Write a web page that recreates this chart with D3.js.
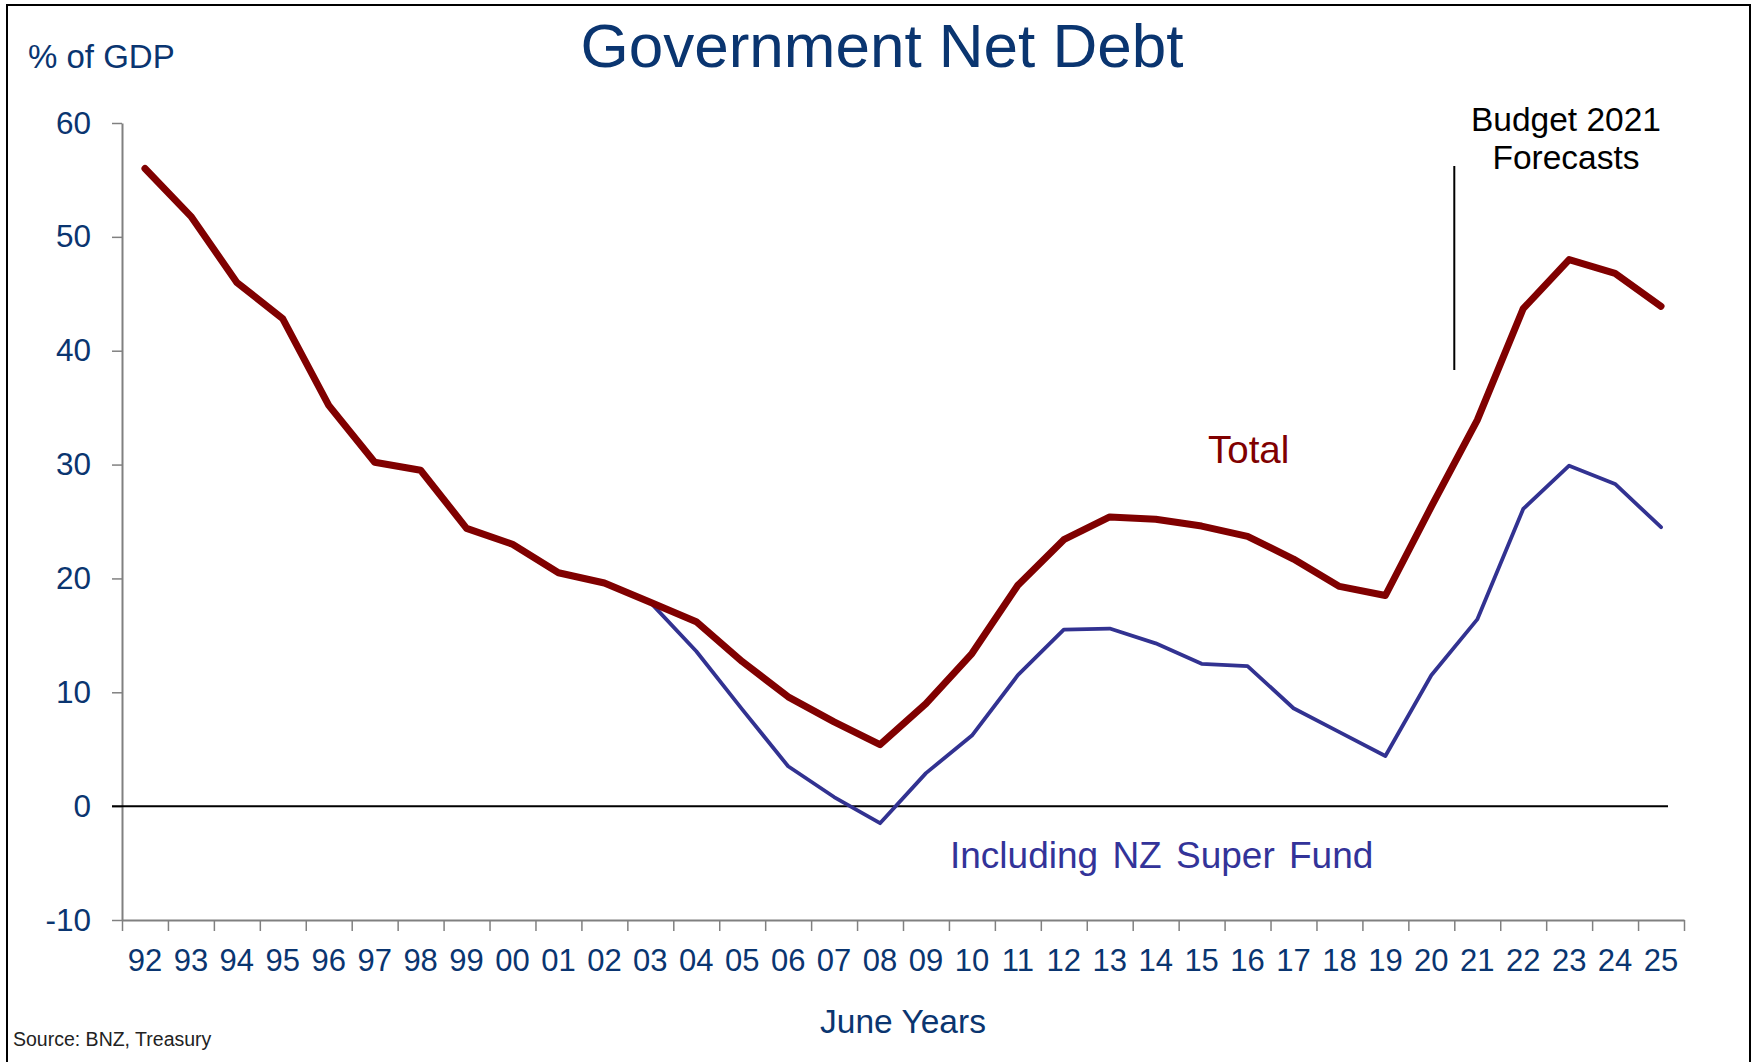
<!DOCTYPE html>
<html>
<head>
<meta charset="utf-8">
<script src="https://cdn.jsdelivr.net/npm/d3@7"></script>
<style>
  html, body { margin: 0; padding: 0; background: #fff; }
  svg { display: block; }
  text { font-family: "Liberation Sans", Arial, sans-serif; }
</style>
</head>
<body>
<svg id="chart" width="1757" height="1062"></svg>
<script>
// ---- data ----
const years = ["92","93","94","95","96","97","98","99","00","01","02","03","04","05","06","07","08",
               "09","10","11","12","13","14","15","16","17","18","19","20","21","22","23","24","25"];
const totalDebt = [56.0, 51.8, 46.0, 42.8, 35.2, 30.2, 29.5, 24.4, 23.0, 20.5, 19.6, 17.9,
                   16.2, 12.7, 9.6, 7.4, 5.4, 9.0, 13.4, 19.4, 23.4, 25.4, 25.2, 24.6,
                   23.7, 21.7, 19.3, 18.5, 26.3, 33.9, 43.7, 48.0, 46.8, 43.9];
const inclNZSF = [56.0, 51.8, 46.0, 42.8, 35.2, 30.2, 29.5, 24.4, 23.0, 20.5, 19.6, 17.9,
                  13.6, 8.5, 3.5, 0.8, -1.5, 2.9, 6.2, 11.5, 15.5, 15.6, 14.3, 12.5,
                  12.3, 8.6, 6.5, 4.4, 11.5, 16.4, 26.1, 29.9, 28.3, 24.5];
const yTicks = [-10, 0, 10, 20, 30, 40, 50, 60];
const forecastBoundary = "21"; // forecasts start from this year

(function () {
// ---- layout ----
const blue = "#0a3570";
const svg = d3.select("#chart");
const mLeft = 122, mRight = 1684, mTop = 123, mBottom = 920;

const x = d3.scaleBand().domain(years).range([mLeft, mRight]).padding(0);
const xEdge = d3.scaleLinear().domain([0, years.length]).range([mLeft, mRight]);
const y = d3.scaleLinear().domain([-10, 60]).range([mBottom, mTop]);
const cx = d => x(d) + x.bandwidth() / 2;

// frame
svg.append("rect").attr("x", 7).attr("y", 5).attr("width", 1743).attr("height", 1070)
  .attr("fill", "none").attr("stroke", "#000").attr("stroke-width", 2);

// title
svg.append("text").attr("x", 882).attr("y", 67).attr("text-anchor", "middle")
  .attr("font-size", 62).attr("fill", blue).text("Government Net Debt");
svg.append("text").attr("x", 28).attr("y", 68)
  .attr("font-size", 33).attr("fill", blue).text("% of GDP");

// y axis
const yAxis = svg.append("g").attr("transform", `translate(${mLeft},0)`)
  .call(d3.axisLeft(y).tickValues(yTicks).tickSize(10).tickPadding(21).tickSizeOuter(0)
        .tickFormat(d => String(d)));
yAxis.select(".domain").attr("stroke", "#808080").attr("stroke-width", 2);
yAxis.selectAll(".tick line").attr("stroke", "#808080").attr("stroke-width", 1.5);
yAxis.selectAll(".tick text").attr("font-size", 31.5).attr("fill", blue)
  .attr("font-family", "Liberation Sans, Arial, sans-serif");

// x axis (ticks at category boundaries)
const xAxisTicks = svg.append("g").attr("transform", `translate(0,${mBottom})`)
  .call(d3.axisBottom(xEdge).tickValues(d3.range(years.length + 1)).tickSize(11).tickSizeOuter(0).tickFormat(""));
xAxisTicks.select(".domain").attr("stroke", "#808080").attr("stroke-width", 2);
xAxisTicks.selectAll(".tick line").attr("stroke", "#808080").attr("stroke-width", 1.5);

const xAxisLabels = svg.append("g").attr("transform", `translate(0,${mBottom})`)
  .call(d3.axisBottom(x).tickSize(0).tickPadding(29));
xAxisLabels.select(".domain").remove();
xAxisLabels.selectAll(".tick text").attr("font-size", 31).attr("fill", blue)
  .attr("font-family", "Liberation Sans, Arial, sans-serif");

svg.append("text").attr("x", 903).attr("y", 1033).attr("text-anchor", "middle")
  .attr("font-size", 33.5).attr("fill", blue).text("June Years");

// zero line
svg.append("line").attr("x1", mLeft - 10).attr("x2", 1668)
  .attr("y1", y(0)).attr("y2", y(0)).attr("stroke", "#000").attr("stroke-width", 2);

// forecast divider
const fx = xEdge(years.indexOf(forecastBoundary));
svg.append("line").attr("x1", fx).attr("x2", fx).attr("y1", 166).attr("y2", 370)
  .attr("stroke", "#000").attr("stroke-width", 2);
const fc = svg.append("text").attr("text-anchor", "middle").attr("font-size", 33.5).attr("fill", "#000");
fc.append("tspan").attr("x", 1566).attr("y", 131).text("Budget 2021");
fc.append("tspan").attr("x", 1566).attr("y", 169).text("Forecasts");

// lines
const line = d3.line().x((d, i) => cx(years[i])).y(d => y(d));
svg.append("path").datum(inclNZSF).attr("d", line).attr("fill", "none")
  .attr("stroke", "#323291").attr("stroke-width", 3.8).attr("stroke-linejoin", "round").attr("stroke-linecap", "round");
svg.append("path").datum(totalDebt).attr("d", line).attr("fill", "none")
  .attr("stroke", "#800000").attr("stroke-width", 7).attr("stroke-linejoin", "round").attr("stroke-linecap", "round");

// series labels
svg.append("text").attr("x", 1208).attr("y", 463).attr("font-size", 38.5).attr("fill", "#800000").text("Total");
svg.append("text").attr("x", 950).attr("y", 868).attr("font-size", 37).attr("fill", "#333399")
  .attr("word-spacing", 4).text("Including NZ Super Fund");

// source
svg.append("text").attr("x", 13).attr("y", 1046).attr("font-size", 19.5).attr("fill", "#222")
  .text("Source: BNZ, Treasury");
})();
</script>
</body>
</html>
